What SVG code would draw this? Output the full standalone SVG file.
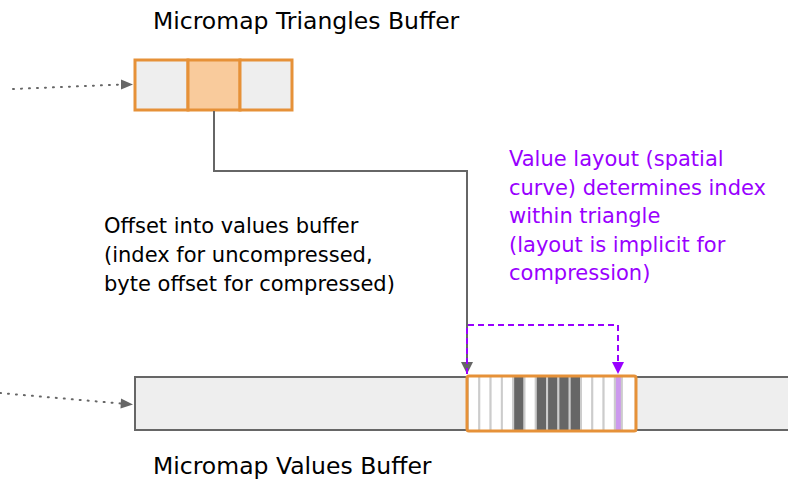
<svg xmlns="http://www.w3.org/2000/svg" width="788" height="480" viewBox="0 0 788 480">
  <style>
    text { font-family: "DejaVu Sans", "Liberation Sans", sans-serif; font-size: 21px; }
    .title { fill: #000000; font-size: 23.5px; }
    .note { fill: #000000; }
    .purple { fill: #9900ff; }
    .cell { fill: #eeeeee; stroke: #e69138; stroke-width: 3; }
    .cell-sel { fill: #f9cb9c; stroke: #e69138; stroke-width: 3; }
    .value { fill: #ffffff; stroke: #cccccc; stroke-width: 2; }
    .value-set { fill: #666666; stroke: #cccccc; stroke-width: 2; }
    .value-hit { fill: #cc99ee; stroke: #cccccc; stroke-width: 2; }
    .conn { fill: none; stroke: #666666; stroke-width: 2; }
    .dotted { fill: none; stroke: #666666; stroke-width: 2; stroke-dasharray: 1 7; stroke-linecap: round; }
    .dashed { fill: none; stroke: #9900ff; stroke-width: 2; stroke-dasharray: 6 4; }
  </style>
  <defs>
    <marker id="arrowGreyBig" viewBox="0 0 10 10" refX="10" refY="5" markerWidth="12" markerHeight="12" markerUnits="userSpaceOnUse" orient="auto">
      <path d="M0,0 L10,5 L0,10 Z" fill="#666666"/>
    </marker>
    <marker id="arrowPurple" viewBox="0 0 10 10" refX="10" refY="5" markerWidth="12" markerHeight="12" markerUnits="userSpaceOnUse" orient="auto">
      <path d="M0,0 L10,5 L0,10 Z" fill="#9900ff"/>
    </marker>
  </defs>

  <!-- Triangles buffer -->
  <g id="triangles-buffer">
    <text class="title" x="153" y="29">Micromap Triangles Buffer</text>
    <rect class="cell" x="135" y="60" width="53" height="50"/>
    <rect class="cell-sel" x="188" y="60" width="52" height="50"/>
    <rect class="cell" x="240" y="60" width="52" height="50"/>
  </g>

  <!-- Values buffer -->
  <g id="values-buffer">
    <rect x="135" y="377" width="660" height="53" fill="#eeeeee" stroke="#666666" stroke-width="2"/>
    <text class="title" x="153" y="474">Micromap Values Buffer</text>
  </g>

  <!-- Values belonging to one triangle -->
  <g id="triangle-values">
    <rect class="value" x="468" y="376" width="11.3" height="55"/>
    <rect class="value" x="479.3" y="376" width="11.3" height="55"/>
    <rect class="value" x="490.6" y="376" width="11.3" height="55"/>
    <rect class="value" x="501.9" y="376" width="11.3" height="55"/>
    <rect class="value-set" x="513.2" y="376" width="11.3" height="55"/>
    <rect class="value" x="524.5" y="376" width="11.3" height="55"/>
    <rect class="value-set" x="535.8" y="376" width="11.3" height="55"/>
    <rect class="value-set" x="547.1" y="376" width="11.3" height="55"/>
    <rect class="value-set" x="558.4" y="376" width="11.3" height="55"/>
    <rect class="value-set" x="569.7" y="376" width="11.3" height="55"/>
    <rect class="value" x="581" y="376" width="11.3" height="55"/>
    <rect class="value" x="592.3" y="376" width="11.3" height="55"/>
    <rect class="value" x="603.6" y="376" width="11.3" height="55"/>
    <rect class="value-hit" x="614.9" y="376" width="7" height="55"/>
    <rect class="value" x="621.9" y="376" width="13.8" height="55"/>
    <rect x="467" y="376" width="169" height="55" rx="2" fill="none" stroke="#e69138" stroke-width="3"/>
  </g>

  <!-- Notes -->
  <g id="offset-note">
    <text class="note" x="104" y="233">Offset into values buffer</text>
    <text class="note" x="104" y="262">(index for uncompressed,</text>
    <text class="note" x="104" y="291">byte offset for compressed)</text>
  </g>
  <g id="layout-note">
    <text class="purple" x="509" y="166">Value layout (spatial</text>
    <text class="purple" x="509" y="195">curve) determines index</text>
    <text class="purple" x="509" y="223">within triangle</text>
    <text class="purple" x="509" y="252">(layout is implicit for</text>
    <text class="purple" x="509" y="280">compression)</text>
  </g>

  <!-- Connectors -->
  <g id="connectors">
    <path class="dotted" d="M13,89 L121,84.5"/>
    <path d="M121,79.5 L133,84.5 L121,89.5 Z" fill="#666666"/>
    <path class="dotted" d="M0,393 L121,403.5"/>
    <path d="M121,398.5 L133,404.5 L120.5,408.5 Z" fill="#666666"/>
    <path class="conn" d="M214,111 L214,171 L467,171 L467,374" marker-end="url(#arrowGreyBig)"/>
    <path class="dashed" d="M467,374 L467,325 L618,325 L618,374" marker-end="url(#arrowPurple)"/>
  </g>
</svg>
